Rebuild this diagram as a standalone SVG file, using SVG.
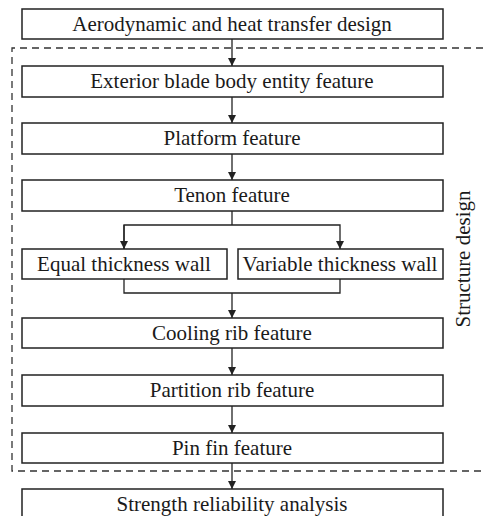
<svg xmlns="http://www.w3.org/2000/svg" width="483" height="516" viewBox="0 0 483 516">
  <defs>
    <marker id="arrow" viewBox="0 0 8 14" refX="8" refY="7" markerWidth="8" markerHeight="14" markerUnits="userSpaceOnUse" orient="auto">
      <path d="M0,3 L8,7 L0,11 Z" fill="#222"/>
    </marker>
    <style>
      .box { fill: #fff; stroke: #222; stroke-width: 1.5; }
      .lbl { font-family: "Liberation Serif", "Times New Roman", serif; font-size: 21px; fill: #1a1a1a; text-anchor: middle; }
      .wire { fill: none; stroke: #222; stroke-width: 1.3; }
      .dash { fill: none; stroke: #333; stroke-width: 1.3; stroke-dasharray: 7 5; }
    </style>
  </defs>
  <rect width="483" height="516" fill="#fff"/>

  <!-- structure design boundary -->
  <g id="structure-boundary">
    <path class="dash" d="M483,48 H12 V471 H483"/>
    <text class="lbl" transform="translate(470,259) rotate(-90)">Structure design</text>
  </g>

  <g id="connectors">
    <path class="wire" d="M232,39 V66" marker-end="url(#arrow)"/>
    <path class="wire" d="M232,97 V123" marker-end="url(#arrow)"/>
    <path class="wire" d="M232,154 V180" marker-end="url(#arrow)"/>
    <path class="wire" d="M232,211 V225"/>
    <path class="wire" d="M124,249 V225 H340 V249" marker-end="url(#arrow)"/>
    <path class="wire" d="M124,225 V249" marker-end="url(#arrow)"/>
    <path class="wire" d="M124,279 V293 H340 V279"/>
    <path class="wire" d="M232,293 V318" marker-end="url(#arrow)"/>
    <path class="wire" d="M232,348 V375" marker-end="url(#arrow)"/>
    <path class="wire" d="M232,406 V433" marker-end="url(#arrow)"/>
    <path class="wire" d="M232,463 V489" marker-end="url(#arrow)"/>
  </g>

  <g id="aero-design">
    <rect class="box" x="22" y="9" width="421" height="30"/>
    <text class="lbl" x="232" y="31">Aerodynamic and heat transfer design</text>
  </g>
  <g id="exterior-blade">
    <rect class="box" x="22" y="66" width="421" height="31"/>
    <text class="lbl" x="232" y="88">Exterior blade body entity feature</text>
  </g>
  <g id="platform">
    <rect class="box" x="22" y="123" width="421" height="31"/>
    <text class="lbl" x="232" y="145">Platform feature</text>
  </g>
  <g id="tenon">
    <rect class="box" x="22" y="180" width="421" height="31"/>
    <text class="lbl" x="232" y="202">Tenon feature</text>
  </g>
  <g id="equal-wall">
    <rect class="box" x="22" y="249" width="205" height="30"/>
    <text class="lbl" x="124" y="271">Equal thickness wall</text>
  </g>
  <g id="variable-wall">
    <rect class="box" x="238" y="249" width="205" height="30"/>
    <text class="lbl" x="340" y="271">Variable thickness wall</text>
  </g>
  <g id="cooling-rib">
    <rect class="box" x="22" y="318" width="421" height="30"/>
    <text class="lbl" x="232" y="340">Cooling rib feature</text>
  </g>
  <g id="partition-rib">
    <rect class="box" x="22" y="375" width="421" height="31"/>
    <text class="lbl" x="232" y="397">Partition rib feature</text>
  </g>
  <g id="pin-fin">
    <rect class="box" x="22" y="433" width="421" height="30"/>
    <text class="lbl" x="232" y="455">Pin fin feature</text>
  </g>
  <g id="strength">
    <rect class="box" x="22" y="489" width="421" height="34"/>
    <text class="lbl" x="232" y="511">Strength reliability analysis</text>
  </g>
</svg>
